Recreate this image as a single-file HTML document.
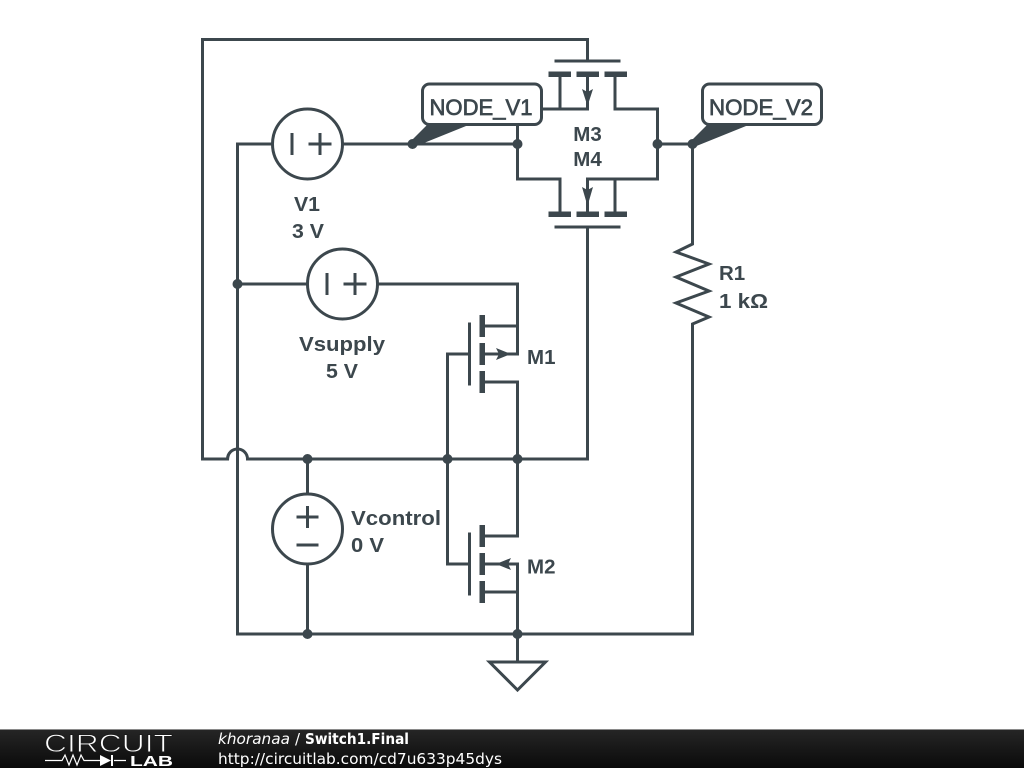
<!DOCTYPE html>
<html><head><meta charset="utf-8"><style>
html,body{margin:0;padding:0;background:#fff;width:1024px;height:768px;overflow:hidden}
svg{display:block}
.w{fill:none;stroke:#3c474d;stroke-width:3;stroke-linejoin:miter;stroke-linecap:square}
.b{fill:#3c474d;stroke:none}
.t{font-family:"Liberation Sans",sans-serif;font-weight:bold;font-size:20.5px;fill:#3c474d}
.n{font-family:"Liberation Sans",sans-serif;font-size:22px;fill:#3c474d;stroke:#3c474d;stroke-width:.7}
.f{font-family:"DejaVu Sans",sans-serif;font-size:15px;fill:#fff}
</style></head><body>
<svg width="1024" height="768" viewBox="0 0 1024 768" xmlns="http://www.w3.org/2000/svg">
<rect width="1024" height="768" fill="#fff"/>
<!-- wires -->
<path class="w" d="M227.5 459H202.5V39.5H587.5V61"/>
<path class="w" d="M227.5 459A10 10 0 0 1 247.5 459H587.5V227"/>
<path class="w" d="M237.5 634V144H272.5M342.5 144H517.5M237.5 284H307.5M377.5 284H517.5V354H482M482 326H517.5"/>
<path class="w" d="M482 382H517.5V536H482M482 564H517.5V634M482 592H517.5"/>
<path class="w" d="M447.5 354H469M447.5 354V564H469"/>
<path class="w" d="M307.5 459V494M307.5 564V634M237.5 634H692.5V324L709 317L676 303L709 291L676 277L709 264L676 252L692.5 244V144H657.5"/>
<path class="w" d="M517.5 634V662"/>
<path class="w" d="M489.5 662H545.5L517.5 690Z"/>
<!-- M3 -->
<path class="w" d="M556 61H619M560 74V109M587.5 74V109M615 74V109H657.5V179H587.5V214M615 179V214M540 109H587.5M517.5 144V179H560V214M657.5 144H692.5M517.5 125V144"/>
<path class="w" d="M556 227H619"/>
<path class="b" d="M548.5 71.5H571V77H548.5ZM576.5 71.5H599V77H576.5ZM604.5 71.5H627V77H604.5ZM548.5 211.5H571V217H548.5ZM576.5 211.5H599V217H576.5ZM604.5 211.5H627V217H604.5Z"/>
<path class="b" d="M582 89L587.5 92L593 89L587.5 106ZM582 187L587.5 190L593 187L587.5 206Z"/>
<!-- M1/M2 -->
<path class="b" d="M479.500 315H485V337H479.500ZM479.500 343H485V365H479.500ZM479.500 371H485V393H479.500ZM479.500 525H485V547H479.500ZM479.500 553H485V575H479.500ZM479.500 581H485V603H479.500Z"/>
<path class="w" d="M469.500 324V384M469.500 534V594"/>
<path class="b" d="M496 348L511 354L496 360L499 354ZM511 558L496 564L511 570L508 564Z"/>
<!-- sources -->
<g fill="#fff" stroke="#3c474d" stroke-width="3">
<circle cx="307.500" cy="144" r="35"/><circle cx="342.500" cy="284" r="35"/><circle cx="307.500" cy="529" r="35"/>
</g>
<path class="w" style="stroke-linecap:butt" d="M292 133V155M308.500 144H331.500M320 133V155M327 273V295M343.500 284H366.500M355 273V295M296.500 517H318.500M307.500 506V528M296.500 545H318.500"/>
<!-- dots -->
<g class="b">
<circle cx="412.500" cy="144" r="5"/><circle cx="517.500" cy="144" r="5"/><circle cx="657.500" cy="144" r="5"/><circle cx="692.500" cy="144" r="5"/>
<circle cx="237.500" cy="284" r="5"/><circle cx="307.500" cy="459" r="5"/><circle cx="447.500" cy="459" r="5"/><circle cx="517.500" cy="459" r="5"/>
<circle cx="307.500" cy="634" r="5"/><circle cx="517.500" cy="634" r="5"/>
</g>
<!-- node labels -->
<path class="b" d="M410 142L428 124H471L414 147Z"/>
<path class="b" d="M690 142L708 124H751L694 147Z"/>
<rect x="422.500" y="84" width="119" height="40.500" rx="7" fill="#fff" stroke="#3c474d" stroke-width="3"/>
<rect x="702.500" y="84" width="119" height="40.500" rx="7" fill="#fff" stroke="#3c474d" stroke-width="3"/>
<text class="n" x="481" y="115" text-anchor="middle" textLength="103" lengthAdjust="spacingAndGlyphs">NODE_V1</text>
<text class="n" x="761" y="115" text-anchor="middle" textLength="104" lengthAdjust="spacingAndGlyphs">NODE_V2</text>
<!-- text -->
<text class="t" x="587.500" y="141" text-anchor="middle">M3</text>
<text class="t" x="587.500" y="166" text-anchor="middle">M4</text>
<text class="t" x="294" y="211" textLength="26" lengthAdjust="spacingAndGlyphs">V1</text>
<text class="t" x="292" y="238" textLength="32" lengthAdjust="spacingAndGlyphs">3 V</text>
<text class="t" x="299" y="351" textLength="86" lengthAdjust="spacingAndGlyphs">Vsupply</text>
<text class="t" x="326" y="378" textLength="32" lengthAdjust="spacingAndGlyphs">5 V</text>
<text class="t" x="351" y="525" textLength="90" lengthAdjust="spacingAndGlyphs">Vcontrol</text>
<text class="t" x="351" y="552" textLength="33" lengthAdjust="spacingAndGlyphs">0 V</text>
<text class="t" x="527" y="364">M1</text>
<text class="t" x="527" y="573.500">M2</text>
<text class="t" x="719" y="280">R1</text>
<text class="t" x="719" y="308" textLength="49" lengthAdjust="spacingAndGlyphs">1 kΩ</text>
<!-- footer -->
<defs><linearGradient id="g" x1="0" y1="0" x2="0" y2="1"><stop offset="0" stop-color="#262626"/><stop offset="1" stop-color="#0a0a0a"/></linearGradient></defs>
<rect x="0" y="729" width="1024" height="39" fill="url(#g)"/>
<rect x="0" y="729" width="1024" height="1" fill="#8a8a8a"/>
<text x="44" y="752" font-family="Liberation Sans,sans-serif" font-size="25" fill="#fff" stroke="#1c1c1c" stroke-width=".9" textLength="129" lengthAdjust="spacingAndGlyphs">CIRCUIT</text>
<text x="130" y="766" font-family="Liberation Sans,sans-serif" font-weight="bold" font-size="15" fill="#fff" textLength="43" lengthAdjust="spacingAndGlyphs">LAB</text>
<path d="M45 760.500H62L65 755L69 765L73 755L77 765L81 755L84 760.500H100M114 760.500H126" fill="none" stroke="#fff" stroke-width="1.200"/>
<path d="M100 755L111 760.500L100 766Z" fill="#fff"/><rect x="111" y="755" width="2" height="11" fill="#fff"/>
<text class="f" x="218" y="744" font-style="italic" textLength="72" lengthAdjust="spacingAndGlyphs">khoranaa</text>
<text class="f" x="295" y="744">/</text>
<text class="f" x="305" y="744" font-weight="bold" textLength="104" lengthAdjust="spacingAndGlyphs">Switch1.Final</text>
<text class="f" x="218" y="764" textLength="284" lengthAdjust="spacingAndGlyphs">http://circuitlab.com/cd7u633p45dys</text>
</svg>
</body></html>
